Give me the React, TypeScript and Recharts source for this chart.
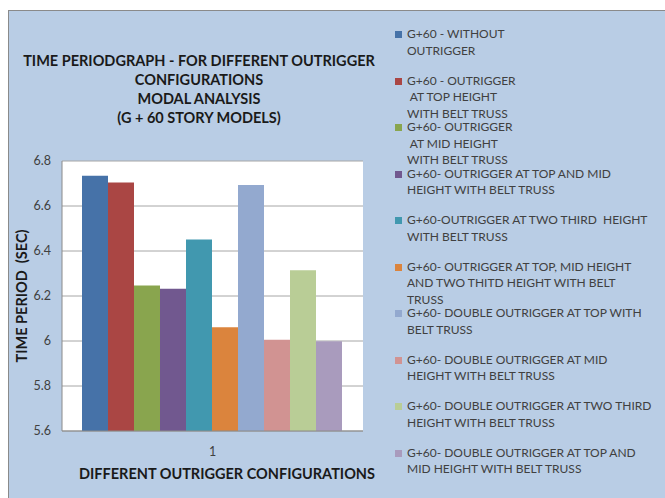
import { BarChart, Bar, XAxis, YAxis, CartesianGrid, Legend } from "recharts";

const categories = ["1"];

const seriesNames = [
  "G+60 - WITHOUT\nOUTRIGGER",
  "G+60 - OUTRIGGER\n AT TOP HEIGHT\nWITH BELT TRUSS",
  "G+60- OUTRIGGER\n AT MID HEIGHT\nWITH BELT TRUSS",
  "G+60- OUTRIGGER AT TOP AND MID\nHEIGHT WITH BELT TRUSS",
  "G+60-OUTRIGGER AT TWO THIRD  HEIGHT\nWITH BELT TRUSS",
  "G+60- OUTRIGGER AT TOP, MID HEIGHT\nAND TWO THITD HEIGHT WITH BELT\nTRUSS",
  "G+60- DOUBLE OUTRIGGER AT TOP WITH\nBELT TRUSS",
  "G+60- DOUBLE OUTRIGGER AT MID\nHEIGHT WITH BELT TRUSS",
  "G+60- DOUBLE OUTRIGGER AT TWO THIRD\nHEIGHT WITH BELT TRUSS",
  "G+60- DOUBLE OUTRIGGER AT TOP AND\nMID HEIGHT WITH BELT TRUSS",
];

// time period (sec), one value per configuration
const periods = [6.735, 6.704, 6.247, 6.232, 6.451, 6.061, 6.693, 6.006, 6.314, 5.999];

const seriesColors = [
  "#4672A8",
  "#AA4644",
  "#89A54E",
  "#71588F",
  "#4198AF",
  "#DB843D",
  "#93A9CF",
  "#D19392",
  "#B9CD96",
  "#A99BBD",
];

const yTicks = [5.6, 5.8, 6, 6.2, 6.4, 6.6, 6.8];

const titleLines = [
  "TIME PERIODGRAPH - FOR DIFFERENT OUTRIGGER",
  "CONFIGURATIONS",
  "MODAL ANALYSIS",
  "(G + 60 STORY MODELS)",
];

const FONT = "Lato, 'Open Sans', sans-serif";

const chartData = categories.map((cat) => {
  const row: Record<string, string | number> = { cat };
  periods.forEach((v, i) => {
    row[`s${i}`] = v;
  });
  return row;
});

function LegendBox(props: any) {
  const payload = props.payload ?? [];
  return (
    <div style={{ position: "relative", width: 270, height: 470, fontFamily: FONT }}>
      {payload.map((p: any, i: number) => (
        <div
          key={i}
          style={{ position: "absolute", left: 0, top: i * 46.5, display: "flex" }}
        >
          <div
            style={{
              width: 7,
              height: 7,
              background: p.color,
              marginTop: 5,
              marginRight: 5,
            }}
          />
          <div
            style={{
              whiteSpace: "pre",
              fontSize: 12,
              lineHeight: "16.5px",
              color: "#404040",
            }}
          >
            {p.value}
          </div>
        </div>
      ))}
    </div>
  );
}

export default function App() {
  return (
    <div
      style={{
        position: "fixed",
        left: 0,
        top: 0,
        width: 665,
        height: 498,
        background: "#fff",
        overflow: "hidden",
      }}
    >
      <div
        style={{
          position: "absolute",
          left: 8,
          top: 10,
          width: 657,
          height: 488,
          background: "#B9CDE5",
          borderLeft: "1px solid #8a8a8a",
          borderTop: "1px solid #8a8a8a",
        }}
      />
      <div style={{ position: "absolute", left: 0, top: 0 }}>
        <BarChart
          width={665}
          height={498}
          data={chartData}
          margin={{ top: 161, right: 302, left: 0, bottom: 37 }}
          barCategoryGap={20}
          barGap={0}
        >
          <CartesianGrid vertical={false} stroke="#a6a6a6" fill="#ffffff" />
          <XAxis
            dataKey="cat"
            height={30}
            axisLine={{ stroke: "#8a8a8a" }}
            tickLine={false}
            tickSize={0}
            tickMargin={16}
            tick={{ fontSize: 12.5, fill: "#404040", fontFamily: FONT }}
          />
          <YAxis
            width={62}
            domain={[5.6, 6.8]}
            ticks={yTicks}
            axisLine={{ stroke: "#8a8a8a" }}
            tickLine={false}
            tickSize={0}
            tickMargin={11}
            tick={{ fontSize: 12.5, fill: "#404040", fontFamily: FONT }}
          />
          <Legend
            layout="vertical"
            align="center"
            verticalAlign="middle"
            itemSorter="dataKey"
            wrapperStyle={{ left: 395, top: 26, width: 270 }}
            content={<LegendBox />}
          />
          {periods.map((_, i) => (
            <Bar
              key={i}
              dataKey={`s${i}`}
              name={seriesNames[i]}
              fill={seriesColors[i]}
              isAnimationActive={false}
            />
          ))}
          {titleLines.map((t, i) => (
            <text
              key={i}
              x={199}
              y={60 + i * 19.3}
              textAnchor="middle"
              dominantBaseline="central"
              fontFamily={FONT}
              fontWeight="bold"
              fontSize={14.5}
              fill="#1a1a1a"
            >
              {t}
            </text>
          ))}
          <text
            x={21.5}
            y={296}
            transform="rotate(-90 21.5 296)"
            textAnchor="middle"
            dominantBaseline="central"
            fontFamily={FONT}
            fontWeight="bold"
            fontSize={14.5}
            fill="#1a1a1a"
            style={{ whiteSpace: "pre" }}
          >
            {"TIME PERIOD  (SEC)"}
          </text>
          <text
            x={227}
            y={473}
            textAnchor="middle"
            dominantBaseline="central"
            fontFamily={FONT}
            fontWeight="bold"
            fontSize={14.5}
            fill="#1a1a1a"
          >
            DIFFERENT OUTRIGGER CONFIGURATIONS
          </text>
        </BarChart>
      </div>
    </div>
  );
}
